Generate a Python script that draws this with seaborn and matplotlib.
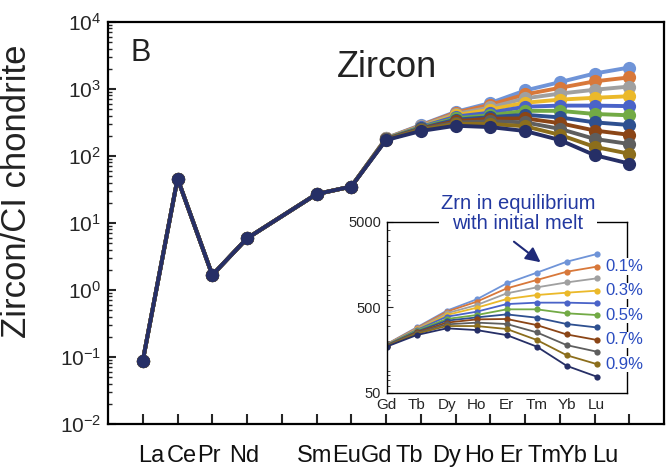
import numpy as np
import pandas as pd
import matplotlib
matplotlib.use("Agg")
import matplotlib.pyplot as plt
import matplotlib.ticker as mticker
import seaborn as sns

# ---------------- data ----------------
elements = ["La", "Ce", "Pr", "Nd", "Sm", "Eu", "Gd", "Tb", "Dy", "Ho", "Er", "Tm", "Yb", "Lu"]
element_pos = [0, 1, 2, 3, 5, 6, 7, 8, 9, 10, 11, 12, 13, 14]   # Pm (4) not plotted
lree_values = [0.088, 46, 1.67, 5.9, 27, 35]                     # La..Eu, common to all series

hree_elements = ["Gd", "Tb", "Dy", "Ho", "Er", "Tm", "Yb", "Lu"]
series_names = ["0.0%", "0.1%", "0.2%", "0.3%", "0.4%", "0.5%", "0.6%", "0.7%", "0.8%", "0.9%", "1.0%"]
s00 = [185, 290, 455, 618, 950, 1266, 1702, 2093]
s01 = [184, 285, 443, 580, 830, 1040, 1300, 1490]
s02 = [183, 280, 424, 530, 726, 853, 975, 1087]
s03 = [182, 275, 405, 493, 623, 694, 739, 780]
s04 = [181, 271, 387, 443, 544, 565, 565, 555]
s05 = [180, 266, 364, 405, 472, 472, 424, 405]
s06 = [179, 259, 348, 380, 412, 377, 318, 290]
s07 = [178, 254, 330, 360, 364, 309, 240, 207]
s08 = [177, 250, 315, 330, 318, 254, 180, 151]
s09 = [175, 245, 301, 301, 278, 207, 137, 108]
s10 = [173, 236, 283, 270, 236, 173, 103, 77]
hree_series = [s00, s01, s02, s03, s04, s05, s06, s07, s08, s09, s10]
series_colors = ["#6f94d8", "#d8783a", "#a0a0a0", "#ebb92a", "#4a63c8", "#72aa45",
                 "#2e5090", "#8b4516", "#5e5e5e", "#8c6e1c", "#262f66"]
labelled_series = ["0.1%", "0.3%", "0.5%", "0.7%", "0.9%"]

ytick_vals = [1e-2, 1e-1, 1e0, 1e1, 1e2, 1e3, 1e4]
ytick_labels = ["10$^{-2}$", "10$^{-1}$", "10$^{0}$", "10$^{1}$", "10$^{2}$", "10$^{3}$", "10$^{4}$"]
inset_yticks = [50, 500, 5000]
inset_ylabels = ["50", "500", "5000"]

# ---------------- tables ----------------
rows_main, rows_in = [], []
for name, vals in zip(series_names, hree_series):
    full = lree_values + vals
    for el, p, v in zip(elements, element_pos, full):
        rows_main.append({"series": name, "el": el, "pos": p, "val": v})
    for i, (el, v) in enumerate(zip(hree_elements, vals)):
        rows_in.append({"series": name, "el": el, "pos": i, "val": v})
df_main = pd.DataFrame(rows_main)
df_in = pd.DataFrame(rows_in)
palette = dict(zip(series_names, series_colors))

# ---------------- style ----------------
sns.set_theme(style="white")
plt.rcParams["font.family"] = ["Liberation Sans", "DejaVu Sans"]
plt.rcParams["mathtext.default"] = "regular"
plt.rcParams["axes.unicode_minus"] = False

fig = plt.figure(figsize=(6.67, 4.72), dpi=100)
ax = fig.add_axes([0.162, 0.1017, 0.8336, 0.8517])

sns.lineplot(data=df_main, x="pos", y="val", hue="series", hue_order=series_names,
             palette=palette, marker="o", markersize=9.5, markeredgewidth=0,
             linewidth=2.8, sort=False, legend=False, ax=ax, estimator=None)
ax.set_yscale("log")
ax.set_ylim(1e-2, 1e4)
ax.set_xlim(-1, 15)

# x ticks: inward marks at each REE slot, labels slightly offset
ax.set_xticks(range(0, 15))
ax.set_xticklabels([])
label_pos = [0.24, 1.13, 1.91, 2.91, 4.94, 5.85, 6.74, 7.66, 8.73, 9.68, 10.6, 11.55, 12.38, 13.3]
ax.set_xticks(label_pos, minor=True)
ax.set_xticklabels(elements, minor=True, fontsize=17)
ax.tick_params(axis="x", which="major", direction="in", length=7, width=1.5, bottom=True, top=False)
ax.tick_params(axis="x", which="minor", length=0, pad=15, bottom=True, colors="#111111")

ax.yaxis.set_major_locator(mticker.FixedLocator(ytick_vals))
ax.set_yticklabels(ytick_labels, fontsize=15)
ax.yaxis.set_minor_locator(mticker.LogLocator(base=10, subs=np.arange(2, 10), numticks=20))
ax.yaxis.set_minor_formatter(mticker.NullFormatter())
ax.tick_params(axis="y", which="major", direction="in", length=6, width=1.5, left=True, right=False, pad=5)
ax.tick_params(axis="y", which="minor", direction="in", length=3, width=1, left=True, right=False)
ax.set_xlabel("")
ax.set_ylabel("Zircon/CI chondrite", fontsize=25, color="#222222")
ax.yaxis.set_label_coords(-0.135, 0.58)
for sp in ax.spines.values():
    sp.set_linewidth(1.6)
    sp.set_color("black")

ax.text(0.04, 0.96, "B", transform=ax.transAxes, fontsize=22, ha="left", va="top", color="#222222")
ax.text(0.502, 0.864, "Zircon", transform=ax.transAxes, fontsize=26, ha="center",
        va="baseline", color="#222222")

# ---------------- inset ----------------
axi = fig.add_axes([0.5797, 0.168, 0.36, 0.3623])
axi.set_facecolor("white")
sns.lineplot(data=df_in, x="pos", y="val", hue="series", hue_order=series_names,
             palette=palette, marker="o", markersize=4.5, markeredgewidth=0,
             linewidth=1.3, sort=False, legend=False, ax=axi, estimator=None)
axi.set_yscale("log")
axi.set_ylim(50, 5000)
axi.set_xlim(0, 8)
axi.set_xticks(range(len(hree_elements)))
axi.set_xticklabels(hree_elements, fontsize=11)
axi.yaxis.set_major_locator(mticker.FixedLocator(inset_yticks))
axi.set_yticklabels(inset_ylabels, fontsize=10.5)
axi.yaxis.set_minor_locator(mticker.LogLocator(base=10, subs=np.arange(2, 10), numticks=20))
axi.yaxis.set_minor_formatter(mticker.NullFormatter())
axi.tick_params(axis="x", which="major", direction="in", length=3, width=0.8, pad=4)
axi.tick_params(axis="y", which="major", direction="in", length=4, width=0.8, left=True, pad=4)
axi.tick_params(axis="y", which="minor", direction="in", length=2, width=0.6, left=True)
axi.set_xlabel("")
axi.set_ylabel("")
for sp in axi.spines.values():
    sp.set_linewidth(1.0)
    sp.set_color("black")

for name, vals in zip(series_names, hree_series):
    if name in labelled_series:
        axi.text(7.28, vals[-1], name, fontsize=12, color="#2a4cc0", ha="left", va="center",
                 bbox=dict(facecolor="white", edgecolor="none", pad=0.5), clip_on=False, zorder=5)

axi.text(0.547, 1.05, "Zrn in equilibrium\nwith initial melt", transform=axi.transAxes,
         fontsize=14.5, color="#2238a0", ha="center", va="center", linespacing=1.05,
         bbox=dict(facecolor="white", edgecolor="none", pad=1), clip_on=False, zorder=5)
axi.annotate("", xy=(0.65, 0.753), xytext=(0.521, 0.893), xycoords="axes fraction",
             arrowprops=dict(arrowstyle="-|>", color="#1f2a78", lw=1.5, mutation_scale=22),
             zorder=6)

fig.savefig("out.png", dpi=100)
